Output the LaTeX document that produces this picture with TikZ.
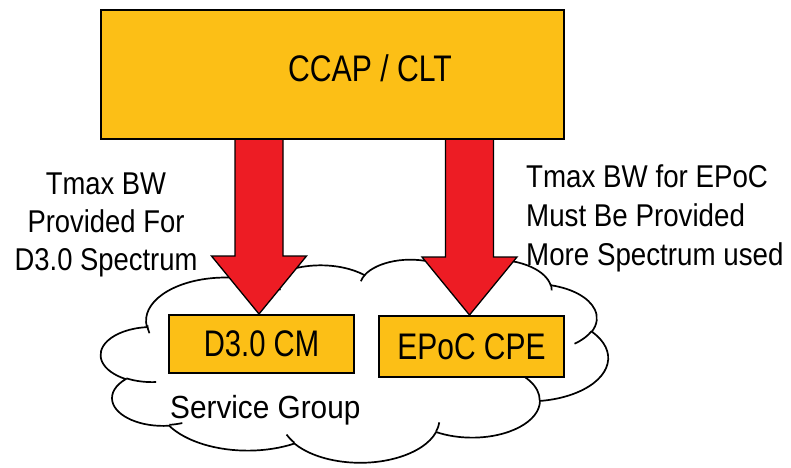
\documentclass[tikz,border=0pt]{standalone}
\usepackage{fontspec}
\setmainfont{Liberation Sans}
\usetikzlibrary{calc}

\definecolor{boxfill}{RGB}{252,191,22}
\definecolor{arrowred}{RGB}{237,28,36}

% horizontally condensed text
\newcommand\nx[2][0.87]{\scalebox{#1}[1]{#2}}

% convert an elliptical "visual" angle into the parametric angle used by arc
\makeatletter
\pgfmathdeclarefunction{visang}{3}{%
  \begingroup
    \pgfmathparse{atan2((#1)*sin(#3),(#2)*cos(#3))}\let\va\pgfmathresult
    \pgfmathparse{\va-(#3)}\let\vd\pgfmathresult
    \pgfmathparse{(#3)+\vd-360*round(\vd/360)}%
    \pgfmath@smuggleone\pgfmathresult
  \endgroup}
\makeatother

% block arrow from a top point #1 down to its tip #2
\newcommand\blockarrow[2]{%
  \draw[bigarrow] ($(#1)+(-24,0)$) -- ($(#2)+(-24,-58)$) -- ($(#2)+(-47.5,-58)$)
    -- (#2) -- ($(#2)+(47.5,-58)$) -- ($(#2)+(24,-58)$) -- ($(#1)+(24,0)$) -- cycle;}

\tikzset{
  unitbox/.style={draw=black, line width=2pt, fill=boxfill, inner sep=0pt},
  bigarrow/.style={draw=black, line width=1.3pt, fill=arrowred, line join=miter},
  cloudline/.style={draw=black, line width=1.7pt},
  boxtext/.style={font=\fontsize{37}{44}\selectfont, inner sep=0pt},
  sidetext/.style={font=\fontsize{31.5}{38}\selectfont, inner sep=0pt},
}

\begin{document}
\begin{tikzpicture}[x=1pt, y=-1pt]
\useasboundingbox (0,0) rectangle (791,467);

% service group cloud
\begin{scope}[shift={(101,259)}, xscale=1.1736, yscale=0.47]
  \draw[cloudline, fill=white] (39.00,143.70)
    \foreach \a/\b/\s/\w [evaluate=\s as \ts using {visang(\a,\b,\s)},
                          evaluate=\w as \te using {visang(\a,\b,\s+\w)}] in {
      67.53/91.90/-190.48748/123.78053,
      53.33/72.67/-144.10238/89.94523,
      43.65/59.45/-145.80792/99.72302,
      48.57/65.95/-130.98607/117.24173,
      53.33/72.73/-78.70888/109.02692,
      67.75/92.20/-46.26725/130.26900,
      57.85/78.67/0.62502/114.03333,
      67.52/92.15/22.45160/115.17255,
      77.20/105.43/66.24263/75.71102,
      43.60/59.18/-274.94208/146.73557,
      43.45/59.45/-246.82850/152.51885}{
      arc[x radius=\a, y radius=\b, start angle=\ts, end angle=\te]
    } -- cycle;
  \draw[cloudline]
    \foreach \x/\y/\a/\b/\s/\w [evaluate=\s as \ts using {visang(\a,\b,\s)},
                                evaluate=\w as \te using {visang(\a,\b,\s+\w)}] in {
      46.93/261.77/43.45/59.45/86.74200/26.42950,
      69.28/348.99/43.60/59.18/73.61047/11.44747,
      164.78/390.90/67.52/92.15/137.62415/14.08110,
      288.27/347.51/67.52/92.15/6.45327/15.99835,
      341.29/229.54/57.85/78.67/-70.29235/70.91737,
      417.98/153.54/53.33/72.73/30.31803/27.75150,
      383.24/54.26/48.57/65.95/-13.74433/14.85890,
      290.78/39.52/48.57/65.95/-149.18145/18.19537,
      221.41/47.20/43.65/59.45/-163.49427/17.68635,
      140.00/51.92/67.53/91.90/-66.70695/12.31935,
      41.27/157.89/67.53/91.90/162.03593/14.21667}{
      (\x,\y) arc[x radius=\a, y radius=\b, start angle=\ts, end angle=\te]
    };
\end{scope}

% devices in the service group
\node[unitbox, boxtext, minimum width=185pt, minimum height=58pt] (cm) at (261.5,344) {\nx[0.79]{D3.0 CM}};
\node[unitbox, boxtext, minimum width=185pt, minimum height=61pt] (cpe) at (471.5,346.5) {\nx[0.81]{EPoC CPE}};
\node[sidetext, font=\fontsize{32}{38}\selectfont, anchor=base west] (sg) at (170,418) {\nx[0.93]{Service Group}};

% headend box position
\coordinate (ccapc) at (332.5,74.5);
\coordinate (tipA) at ($(cm.north)+(-2.5,0)$);
\coordinate (tipB) at ($(cpe.north)+(-2,0)$);
\coordinate (topA) at (tipA |- 0,137);
\coordinate (topB) at (tipB |- 0,137);

% bandwidth arrows
\blockarrow{topA}{tipA}
\blockarrow{topB}{tipB}

% headend
\node[unitbox, line width=2.2pt, minimum width=463pt, minimum height=129pt] (ccap) at (ccapc) {};
\node[boxtext, anchor=base] (ccaplbl) at (370,81) {\nx[0.815]{CCAP / CLT}};

% annotations
\node[sidetext, anchor=base] (l1) at (106,194) {\nx{Tmax BW}};
\node[sidetext, anchor=base] (l2) at (106,232) {\nx{Provided For}};
\node[sidetext, anchor=base] (l3) at (106,270) {\nx{D3.0 Spectrum}};

\node[sidetext, anchor=base west] (r1) at (526,187) {\nx[0.88]{Tmax BW for EPoC}};
\node[sidetext, anchor=base west] (r2) at (526,226) {\nx[0.88]{Must Be Provided}};
\node[sidetext, anchor=base west] (r3) at (526,265) {\nx[0.88]{More Spectrum used}};
\end{tikzpicture}
\end{document}
